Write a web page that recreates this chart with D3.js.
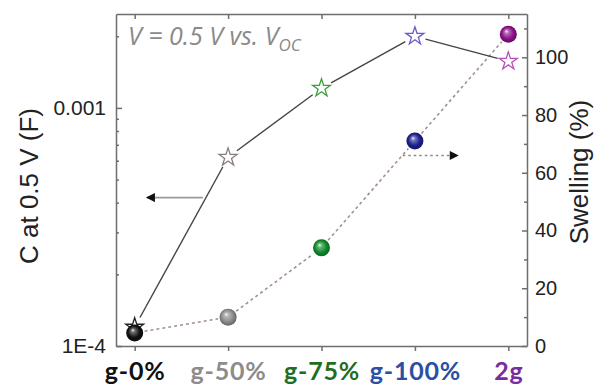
<!DOCTYPE html>
<html>
<head>
  <meta charset="utf-8">
  <title>C at 0.5 V and swelling</title>
  <script src="https://d3js.org/d3.v7.min.js"></script>
  <style>
    body { margin: 0; background: white; }
    svg { display: block; }
    .axis path, .axis line { stroke: #6e6e6e; stroke-width: 1.5; }
    .axis text { font-family: "Liberation Sans", Arial, sans-serif; fill: #222; }
    .xlab text { font-family: Lato, "Open Sans", sans-serif; font-weight: bold; font-size: 25px; letter-spacing: 0.8px; }
    .title { font-family: "Liberation Sans", Arial, sans-serif; font-size: 26px; fill: #222; }
  </style>
</head>
<body>
<svg id="chart"></svg>
<script>
var width = 594;
var height = 385;

// data
var groups = ["g-0%", "g-50%", "g-75%", "g-100%", "2g"];
var capacitance = [1.2e-4, 6.2e-4, 1.21e-3, 2.0e-3, 1.57e-3];   // F, left log axis
var swelling = [4.5, 10, 34, 71, 108];                            // %, right axis
var labelColors = ["#111111", "#8c8c8c", "#1f6e22", "#2b4fa3", "#7b2c9c"];
var starColors = ["#222222", "#8a7c7c", "#3aa33a", "#6b5bc8", "#b84fba"];
var sphereColors = ["#111111", "#8d8d8d", "#0e8a2c", "#1d1f8f", "#8e0f8c"];
var leftTicks = [1e-4, 1e-3];
var leftTickLabels = ["1E-4", "0.001"];
var leftMinor = [2e-4, 3e-4, 4e-4, 5e-4, 6e-4, 7e-4, 8e-4, 9e-4, 2e-3];
var rightTicks = [0, 20, 40, 60, 80, 100];
var rightMinor = [10, 30, 50, 70, 90, 110];

var margin = {top: 14, right: 67, bottom: 39, left: 116};

var svg = d3.select("#chart").attr("width", width).attr("height", height);

var x = d3.scaleLinear().domain([-0.2, 4.2]).range([margin.left, width - margin.right]);
var yL = d3.scaleLog().domain([1e-4, 2.48e-3]).range([height - margin.bottom, margin.top]);
var yR = d3.scaleLinear().domain([0, 115]).range([height - margin.bottom, margin.top]);

// sphere gradients
var defs = svg.append("defs");
sphereColors.forEach(function(c, i) {
  var g = defs.append("radialGradient").attr("id", "ball" + i)
    .attr("cx", "50%").attr("cy", "50%").attr("r", "55%")
    .attr("fx", "38%").attr("fy", "32%");
  g.append("stop").attr("offset", "0%").attr("stop-color", "#ffffff");
  g.append("stop").attr("offset", "20%").attr("stop-color", d3.interpolateRgb(c, "#ffffff")(0.4));
  g.append("stop").attr("offset", "62%").attr("stop-color", c);
  g.append("stop").attr("offset", "100%").attr("stop-color", d3.interpolateRgb(c, "#000000")(0.35));
});
defs.append("marker").attr("id", "head")
  .attr("viewBox", "0 0 10 10").attr("refX", 9).attr("refY", 5)
  .attr("markerWidth", 10).attr("markerHeight", 9).attr("markerUnits", "userSpaceOnUse")
  .attr("orient", "auto")
  .append("path").attr("d", "M0,0 L10,5 L0,10 Z").attr("fill", "#111");

// axes: frame with inward ticks
var bottom = svg.append("g").attr("class", "axis xlab")
  .attr("transform", "translate(0," + (height - margin.bottom) + ")")
  .call(d3.axisBottom(x).tickValues([0, 1, 2, 3, 4]).tickSizeInner(5).tickSizeOuter(0)
    .tickPadding(11).tickFormat(function(i) { return groups[i]; }));
bottom.selectAll("text").style("fill", function(i) { return labelColors[i]; });

svg.append("g").attr("class", "axis")
  .attr("transform", "translate(0," + margin.top + ")")
  .call(d3.axisTop(x).tickValues([0, 1, 2, 3, 4]).tickSizeInner(-5).tickSizeOuter(0).tickFormat(""));

var left = svg.append("g").attr("class", "axis")
  .attr("transform", "translate(" + margin.left + ",0)")
  .call(d3.axisLeft(yL).tickValues(leftTicks).tickSizeInner(-6).tickSizeOuter(0).tickPadding(10)
    .tickFormat(function(d, i) { return leftTickLabels[i]; }));
left.selectAll("text").style("font-size", "21px");
svg.append("g").attr("class", "axis")
  .attr("transform", "translate(" + margin.left + ",0)")
  .call(d3.axisLeft(yL).tickValues(leftMinor).tickSizeInner(-3).tickSizeOuter(0).tickFormat(""))
  .select(".domain").remove();

var right = svg.append("g").attr("class", "axis")
  .attr("transform", "translate(" + (width - margin.right) + ",0)")
  .call(d3.axisRight(yR).tickValues(rightTicks).tickSizeInner(-5).tickSizeOuter(0).tickPadding(8));
right.selectAll("text").style("font-size", "20px");
svg.append("g").attr("class", "axis")
  .attr("transform", "translate(" + (width - margin.right) + ",0)")
  .call(d3.axisRight(yR).tickValues(rightMinor).tickSizeInner(-3).tickSizeOuter(0).tickFormat(""))
  .select(".domain").remove();

// axis titles
svg.append("text").attr("class", "title")
  .attr("transform", "translate(38," + ((margin.top + height - margin.bottom) / 2 + 6) + ") rotate(-90)")
  .attr("text-anchor", "middle").text("C at 0.5 V (F)");
svg.append("text").attr("class", "title")
  .attr("transform", "translate(588," + ((margin.top + height - margin.bottom) / 2 - 8) + ") rotate(-90)")
  .attr("text-anchor", "middle").text("Swelling (%)");

// annotation
var note = svg.append("text")
  .attr("x", 128).attr("y", 45)
  .style("font-family", "'Open Sans', sans-serif").style("font-style", "italic")
  .style("font-size", "25px").style("fill", "#8a8a8a");
note.append("tspan").text("V = 0.5 V vs. V");
note.append("tspan").attr("dy", 6).style("font-size", "17px").text("OC");

// connecting lines, broken around the markers
function gapped(points, gap) {
  return d3.pairs(points).map(function(p) {
    var dx = p[1][0] - p[0][0], dy = p[1][1] - p[0][1];
    var len = Math.sqrt(dx * dx + dy * dy);
    var ux = dx / len, uy = dy / len;
    return [p[0][0] + ux * gap, p[0][1] + uy * gap, p[1][0] - ux * gap, p[1][1] - uy * gap];
  });
}
var starPts = capacitance.map(function(v, i) { return [x(i), yL(v)]; });
var ballPts = swelling.map(function(v, i) { return [x(i), yR(v)]; });

svg.append("g").selectAll("line")
  .data(gapped(ballPts, 10)).enter().append("line")
  .attr("x1", function(d) { return d[0]; }).attr("y1", function(d) { return d[1]; })
  .attr("x2", function(d) { return d[2]; }).attr("y2", function(d) { return d[3]; })
  .attr("stroke", "#a48f8f").attr("stroke-width", 1.6).attr("stroke-dasharray", "3,3");

svg.append("g").selectAll("line")
  .data(gapped(starPts, 11)).enter().append("line")
  .attr("x1", function(d) { return d[0]; }).attr("y1", function(d) { return d[1]; })
  .attr("x2", function(d) { return d[2]; }).attr("y2", function(d) { return d[3]; })
  .attr("stroke", "#444").attr("stroke-width", 1.4);

// arrows pointing to each axis
svg.append("line")
  .attr("x1", x(0.73)).attr("y1", yL(4.2e-4)).attr("x2", x(0.13)).attr("y2", yL(4.2e-4))
  .attr("stroke", "#9a9a9a").attr("stroke-width", 1.6).attr("marker-end", "url(#head)");
svg.append("line")
  .attr("x1", x(2.87)).attr("y1", yR(66)).attr("x2", x(3.46)).attr("y2", yR(66))
  .attr("stroke", "#8a8a8a").attr("stroke-width", 1.6).attr("stroke-dasharray", "2.5,3")
  .attr("marker-end", "url(#head)");

// stars (capacitance)
svg.append("g").selectAll("path")
  .data(capacitance).enter().append("path")
  .attr("transform", function(d, i) { return "translate(" + x(i) + "," + yL(d) + ")"; })
  .attr("d", d3.symbol().type(d3.symbolStar).size(100))
  .attr("fill", "white").attr("stroke", function(d, i) { return starColors[i]; })
  .attr("stroke-width", 1.3);

// spheres (swelling)
svg.append("g").selectAll("circle")
  .data(swelling).enter().append("circle")
  .attr("cx", function(d, i) { return x(i); })
  .attr("cy", function(d) { return yR(d); })
  .attr("r", 8.5)
  .attr("fill", function(d, i) { return "url(#ball" + i + ")"; });
</script>
</body>
</html>
